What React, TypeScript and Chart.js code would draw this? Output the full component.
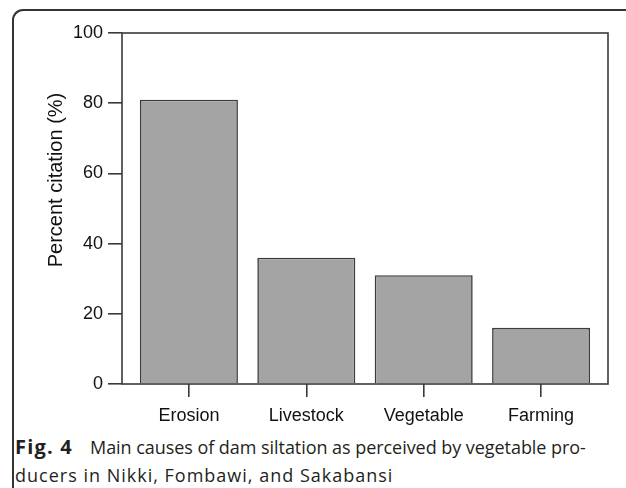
import React, { useEffect, useRef } from "react";
import { Chart, registerables } from "chart.js";

Chart.register(...registerables);

const categories: string[] = ["Erosion", "Livestock", "Vegetable", "Farming"];
const percentCitation: number[] = [81, 36, 31, 16];
const yTickValues: number[] = [0, 20, 40, 60, 80, 100];
const yAxisTitle = "Percent citation (%)";
const captionLabel = "Fig. 4";
const captionLine1 = "Main causes of dam siltation as perceived by vegetable pro-";
const captionLine2 = "ducers in Nikki, Fombawi, and Sakabansi";

const FONT = '"Liberation Sans", Arial, Helvetica, sans-serif';
const AXIS_COLOR = "#3a3a3a";
const TEXT_COLOR = "#111111";

const framePlugin = {
  id: "plotFrame",
  afterDatasetsDraw(chart: any) {
    const { ctx, chartArea: a } = chart;
    ctx.save();
    ctx.strokeStyle = AXIS_COLOR;
    ctx.lineWidth = 1.6;
    ctx.strokeRect(a.left, a.top, a.right - a.left, a.bottom - a.top);
    ctx.restore();
  },
  afterDraw(chart: any) {
    const { ctx, chartArea: a } = chart;
    ctx.save();
    ctx.translate(a.left - 66, a.top + 147);
    ctx.rotate(-Math.PI / 2);
    ctx.font = `20px ${FONT}`;
    ctx.fillStyle = TEXT_COLOR;
    ctx.textAlign = "center";
    ctx.textBaseline = "middle";
    ctx.fillText(yAxisTitle, 0, 0);
    ctx.restore();
  },
};

export default function App() {
  const canvasRef = useRef<HTMLCanvasElement | null>(null);

  useEffect(() => {
    const canvas = canvasRef.current;
    if (!canvas) return;
    const chart = new Chart(canvas, {
      type: "bar",
      data: {
        datasets: [
          {
            data: percentCitation.map((v, i) => ({ x: i + 1, y: v })),
            backgroundColor: "#a4a4a4",
            borderColor: "#3c3c3c",
            borderWidth: 1.6,
            categoryPercentage: 1,
            barPercentage: 0.835,
          },
        ],
      },
      options: {
        responsive: false,
        animation: false,
        events: [],
        layout: { padding: { left: 0, top: 33, right: 18, bottom: 0 } },
        plugins: {
          legend: { display: false },
          tooltip: { enabled: false },
        },
        scales: {
          x: {
            type: "linear",
            position: "bottom",
            offset: false,
            min: 0.43,
            max: 4.57,
            afterBuildTicks: (s: any) => {
              s.ticks = categories.map((_, i) => ({ value: i + 1 }));
            },
            afterFit: (s: any) => {
              s.height = 46;
            },
            ticks: {
              callback: (v: any) => categories[Math.round(Number(v)) - 1] ?? "",
              font: { family: FONT, size: 18 },
              color: TEXT_COLOR,
              padding: 8,
              maxRotation: 0,
              autoSkip: false,
            },
            grid: {
              display: true,
              offset: false,
              drawOnChartArea: false,
              drawTicks: true,
              tickLength: 13,
              color: AXIS_COLOR,
              lineWidth: 1.6,
            },
            border: { display: false },
          },
          y: {
            type: "linear",
            min: 0,
            max: 100,
            afterBuildTicks: (s: any) => {
              s.ticks = yTickValues.map((v) => ({ value: v }));
            },
            afterFit: (s: any) => {
              s.width = 122;
            },
            ticks: {
              font: { family: FONT, size: 18 },
              color: TEXT_COLOR,
              padding: 5,
            },
            grid: {
              display: true,
              drawOnChartArea: false,
              drawTicks: true,
              tickLength: 14,
              color: AXIS_COLOR,
              lineWidth: 1.6,
            },
            border: { display: false },
          },
        },
      },
      plugins: [framePlugin],
    } as any);
    return () => chart.destroy();
  }, []);

  return (
    <div
      style={{
        position: "fixed",
        left: 0,
        top: 0,
        width: 626,
        height: 488,
        overflow: "hidden",
        background: "#ffffff",
      }}
    >
      <div
        style={{
          position: "absolute",
          left: 12,
          top: 9,
          width: 700,
          height: 600,
          borderTop: "2px solid #333",
          borderLeft: "2px solid #333",
          borderTopLeftRadius: 11,
          boxSizing: "border-box",
        }}
      />
      <canvas
        ref={canvasRef}
        width={626}
        height={430}
        style={{ position: "absolute", left: 0, top: 0, display: "block" }}
      />
      <div
        style={{
          position: "absolute",
          left: 15,
          top: 433,
          fontFamily: '"Open Sans", "Noto Sans", sans-serif',
          fontSize: 18,
          lineHeight: "28px",
          color: "#231f20",
          whiteSpace: "nowrap",
        }}
      >
        <div>
          <span
            style={{
              display: "inline-block",
              width: 75,
              fontWeight: 700,
              fontSize: 20,
              letterSpacing: "1.2px",
            }}
          >
            {captionLabel}
          </span>
          <span style={{ letterSpacing: "-0.05px" }}>{captionLine1}</span>
        </div>
        <div style={{ letterSpacing: "1px" }}>{captionLine2}</div>
      </div>
    </div>
  );
}
